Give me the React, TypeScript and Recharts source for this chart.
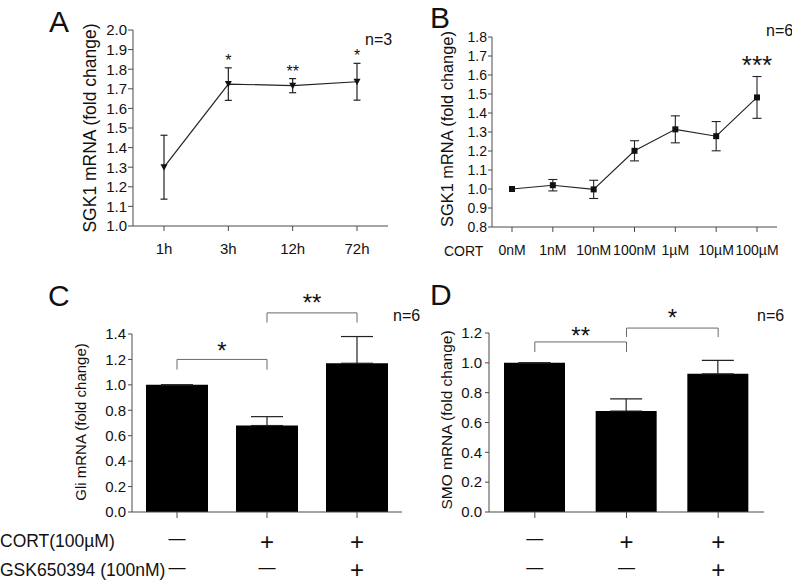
import {
  LineChart, Line, BarChart, Bar, XAxis, YAxis, ErrorBar, LabelList, ReferenceLine,
} from 'recharts'

// ─── Data ─────────────────────────────────────────────────────────────────────

const timeLabels = ['1h', '3h', '12h', '72h']
const timeMean = [1.30, 1.724, 1.716, 1.736]
const timeErr = [0.163, 0.083, 0.036, 0.094]
const timeSig = ['', '*', '**', '*']
const timeTicks = [1.0, 1.1, 1.2, 1.3, 1.4, 1.5, 1.6, 1.7, 1.8, 1.9, 2.0]

const doseLabels = ['0nM', '1nM', '10nM', '100nM', '1µM', '10µM', '100µM']
const doseMean = [1.0, 1.02, 0.998, 1.201, 1.314, 1.278, 1.482]
const doseErr = [0, 0.03, 0.048, 0.053, 0.071, 0.077, 0.11]
const doseSig = ['', '', '', '', '', '', '***']
const doseTicks = [0.8, 0.9, 1.0, 1.1, 1.2, 1.3, 1.4, 1.5, 1.6, 1.7, 1.8]

const groups = ['Control', 'CORT', 'CORT+GSK']
const cortSigns = ['—', '+', '+']
const gskSigns = ['—', '—', '+']

const gliMean = [1.0, 0.68, 1.17]
const gliErr = [0, 0.07, 0.21]
const gliTicks = [0, 0.2, 0.4, 0.6, 0.8, 1.0, 1.2, 1.4]
const gliBrackets = [
  { from: 0, to: 1, top: 1.2, foot: 1.12, sig: '*', lift: 0 },
  { from: 1, to: 2, top: 1.566, foot: 1.49, sig: '**', lift: 2 },
]

const smoMean = [1.0, 0.677, 0.926]
const smoErr = [0, 0.082, 0.091]
const smoTicks = [0, 0.2, 0.4, 0.6, 0.8, 1.0, 1.2]
const smoBrackets = [
  { from: 0, to: 1, top: 1.14, foot: 1.073, sig: '**', lift: -2 },
  { from: 1, to: 2, top: 1.233, foot: 1.173, sig: '*', lift: 2 },
]

// ─── Styles ───────────────────────────────────────────────────────────────────

const FONT = '"Liberation Sans", Arial, Helvetica, sans-serif'
const INK = '#111'
const AXIS = '#4a4a4a'
const BRACKET = '#6a6a6a'

const timeData = timeLabels.map((t, i) => ({
  t, mean: timeMean[i], err: timeErr[i], cap: timeMean[i] + timeErr[i], sig: timeSig[i],
}))
const doseData = doseLabels.map((d, i) => ({
  d, mean: doseMean[i], err: doseErr[i], cap: doseMean[i] + doseErr[i], sig: doseSig[i],
}))
const gliData = groups.map((g, i) => ({ g, v: gliMean[i], e: [0, gliErr[i]] }))
const smoData = groups.map((g, i) => ({ g, v: smoMean[i], e: [0, smoErr[i]] }))

// ─── Marks ────────────────────────────────────────────────────────────────────

function TriDot(p: any) {
  if (p.cx == null || p.cy == null) return <g key={p.index} />
  const { cx, cy } = p
  return <path key={p.index} d={`M${cx - 3.5},${cy - 3} L${cx + 3.5},${cy - 3} L${cx},${cy + 3.5} Z`} fill={INK} />
}

function SquareDot(p: any) {
  if (p.cx == null || p.cy == null) return <g key={p.index} />
  return <rect key={p.index} x={p.cx - 3} y={p.cy - 3} width={6} height={6} fill={INK} />
}

// two rows of +/— under each bar
function SignTick(props: any) {
  const { x, y, payload } = props
  const i = groups.indexOf(payload.value)
  const rows = [cortSigns[i], gskSigns[i]]
  const dash = [26, 55]
  const plus = [32, 59.5]
  return (
    <g>
      {rows.map((s, r) => (
        <text
          key={r}
          x={x}
          y={y + (s === '+' ? plus[r] : dash[r])}
          textAnchor="middle"
          fontSize={s === '+' ? 24 : 17}
          fill={INK}
          fontFamily={FONT}
        >
          {s}
        </text>
      ))}
    </g>
  )
}

function brackets(list: typeof gliBrackets) {
  return list.map((b, i) => [
    <ReferenceLine
      key={`h${i}`}
      segment={[{ x: groups[b.from], y: b.top }, { x: groups[b.to], y: b.top }]}
      stroke={BRACKET}
      ifOverflow="visible"
      label={{ value: b.sig, position: 'top', offset: b.lift, fontSize: 24, fill: INK, fontFamily: FONT }}
    />,
    <ReferenceLine
      key={`l${i}`}
      segment={[{ x: groups[b.from], y: b.top }, { x: groups[b.from], y: b.foot }]}
      stroke={BRACKET}
      ifOverflow="visible"
    />,
    <ReferenceLine
      key={`r${i}`}
      segment={[{ x: groups[b.to], y: b.top }, { x: groups[b.to], y: b.foot }]}
      stroke={BRACKET}
      ifOverflow="visible"
    />,
  ])
}

const fmt1 = (v: number) => v.toFixed(1)

// ─── Component ────────────────────────────────────────────────────────────────

export default function App() {
  return (
    <div style={{ position: 'absolute', left: 0, top: 0, width: 792, height: 583, background: '#fff', fontFamily: FONT }}>
      {/* A */}
      <div style={{ position: 'absolute', left: 0, top: 0 }}>
        <LineChart width={400} height={280} data={timeData} margin={{ top: 30, right: 12, bottom: 24, left: 83 }}>
          <XAxis
            dataKey="t"
            padding={{ left: 31, right: 31 }}
            interval={0}
            stroke={AXIS}
            tickSize={5}
            tickMargin={12}
            height={30}
            tick={{ fontSize: 15, fill: INK }}
          />
          <YAxis
            domain={[1, 2]}
            ticks={timeTicks}
            interval={0}
            tickFormatter={fmt1}
            stroke={AXIS}
            tickSize={5}
            tickMargin={1}
            width={50}
            tick={{ fontSize: 15, fill: INK }}
          />
          <Line dataKey="mean" stroke="#222" strokeWidth={1.2} dot={TriDot} activeDot={false} isAnimationActive={false}>
            <ErrorBar dataKey="err" width={3.5} stroke="#222" strokeWidth={1.2} isAnimationActive={false} />
          </Line>
          <Line dataKey="cap" stroke="none" dot={false} activeDot={false} isAnimationActive={false}>
            <LabelList dataKey="sig" position="top" offset={2} fontSize={16} fill={INK} />
          </Line>
        </LineChart>
      </div>

      {/* B */}
      <div style={{ position: 'absolute', left: 395, top: 0 }}>
        <LineChart width={397} height={280} data={doseData} margin={{ top: 37, right: 15, bottom: 23, left: 47 }}>
          <XAxis
            dataKey="d"
            padding={{ left: 20, right: 20 }}
            interval={0}
            stroke={AXIS}
            tickSize={5}
            tickMargin={13}
            height={30}
            tick={{ fontSize: 14, fill: INK }}
          />
          <YAxis
            domain={[0.8, 1.8]}
            ticks={doseTicks}
            interval={0}
            tickFormatter={fmt1}
            stroke={AXIS}
            tickSize={4}
            tickMargin={1}
            width={50}
            tick={{ fontSize: 14, fill: INK }}
          />
          <Line dataKey="mean" stroke="#222" strokeWidth={1.1} dot={SquareDot} activeDot={false} isAnimationActive={false}>
            <ErrorBar dataKey="err" width={4.5} stroke="#222" strokeWidth={1.1} isAnimationActive={false} />
          </Line>
          <Line dataKey="cap" stroke="none" dot={false} activeDot={false} isAnimationActive={false}>
            <LabelList dataKey="sig" position="top" offset={3} fontSize={26} fill={INK} />
          </Line>
        </LineChart>
      </div>

      {/* C */}
      <div style={{ position: 'absolute', left: 0, top: 280 }}>
        <BarChart width={410} height={303} data={gliData} margin={{ top: 54, right: 8, bottom: 0, left: 82 }}>
          <XAxis
            dataKey="g"
            interval={0}
            stroke={AXIS}
            tickSize={6}
            tickMargin={0}
            height={71}
            tick={SignTick}
          />
          <YAxis
            domain={[0, 1.4]}
            ticks={gliTicks}
            interval={0}
            tickFormatter={fmt1}
            stroke={AXIS}
            tickSize={4}
            tickMargin={2}
            width={50}
            tick={{ fontSize: 15, fill: INK }}
          />
          <Bar dataKey="v" fill="#000" barSize={62} isAnimationActive={false}>
            <ErrorBar dataKey="e" width={16} stroke="#222" strokeWidth={1.2} isAnimationActive={false} />
          </Bar>
          {brackets(gliBrackets)}
        </BarChart>
      </div>

      {/* D */}
      <div style={{ position: 'absolute', left: 395, top: 280 }}>
        <BarChart width={397} height={303} data={smoData} margin={{ top: 53, right: 28, bottom: 0, left: 44 }}>
          <XAxis
            dataKey="g"
            interval={0}
            stroke={AXIS}
            tickSize={6}
            tickMargin={0}
            height={71}
            tick={SignTick}
          />
          <YAxis
            domain={[0, 1.2]}
            ticks={smoTicks}
            interval={0}
            tickFormatter={fmt1}
            stroke={AXIS}
            tickSize={4}
            tickMargin={3}
            width={50}
            tick={{ fontSize: 15, fill: INK }}
          />
          <Bar dataKey="v" fill="#000" barSize={61} isAnimationActive={false}>
            <ErrorBar dataKey="e" width={16} stroke="#222" strokeWidth={1.2} isAnimationActive={false} />
          </Bar>
          {brackets(smoBrackets)}
        </BarChart>
      </div>

      {/* panel letters, titles, n labels */}
      <svg width={792} height={583} style={{ position: 'absolute', left: 0, top: 0, pointerEvents: 'none' }} fontFamily={FONT} fill={INK}>
        <text x={49} y={32} fontSize={30}>A</text>
        <text x={430} y={28} fontSize={30}>B</text>
        <text x={48} y={306} fontSize={30}>C</text>
        <text x={430} y={305} fontSize={30}>D</text>

        <text x={96} y={128} fontSize={17.5} textAnchor="middle" transform="rotate(-90 96 128)">SGK1 mRNA (fold change)</text>
        <text x={453} y={129} fontSize={16.4} textAnchor="middle" transform="rotate(-90 453 129)">SGK1 mRNA (fold change)</text>
        <text x={86} y={422} fontSize={15} textAnchor="middle" transform="rotate(-90 86 422)">Gli mRNA (fold change)</text>
        <text x={452} y={420} fontSize={15.5} textAnchor="middle" transform="rotate(-90 452 420)">SMO mRNA (fold change)</text>

        <text x={365} y={45} fontSize={16}>n=3</text>
        <text x={766} y={36} fontSize={16}>n=6</text>
        <text x={393} y={321} fontSize={16}>n=6</text>
        <text x={757} y={321} fontSize={16}>n=6</text>

        <text x={444} y={256} fontSize={14}>CORT</text>
        <text x={0} y={547} fontSize={17.5}>CORT(100µM)</text>
        <text x={0} y={576} fontSize={17.5}>GSK650394 (100nM)</text>
      </svg>
    </div>
  )
}
